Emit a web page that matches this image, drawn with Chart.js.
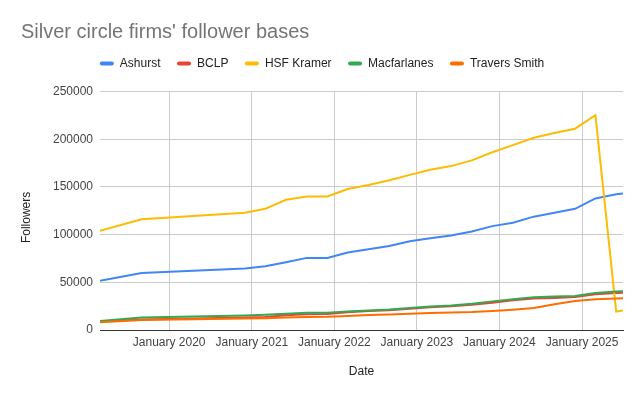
<!DOCTYPE html>
<html>
<head>
<meta charset="utf-8">
<script src="https://cdn.jsdelivr.net/npm/chart.js@4/dist/chart.umd.min.js"></script>
<style>
  html, body { margin: 0; padding: 0; background: #fff; }
  #wrap { width: 643px; height: 399px; position: relative; }
</style>
</head>
<body>
<div id="wrap"><canvas id="c"></canvas></div>
<script>
// ---- Data ----
const dates = ['2019-03','2019-09','2020-12','2021-03','2021-06','2021-09','2021-12',
               '2022-03','2022-06','2022-09','2022-12','2023-03','2023-06','2023-09',
               '2023-12','2024-03','2024-06','2024-09','2024-12','2025-03','2025-06','2025-07'];
const ashurst      = [51600, 59700, 64400, 66800, 71000, 75600, 75600, 81300, 84600, 88000, 93000,
                      96200, 99000, 103200, 108900, 112400, 118800, 123000, 127000, 137900, 142300, 143200];
const bclp         = [8800, 11000, 13000, 13600, 15500, 16500, 16800, 18500, 19800, 20800, 22300,
                      23800, 24800, 26500, 28600, 31100, 32900, 33600, 34600, 37500, 38700, 39000];
const hsfKramer    = [104000, 116000, 123000, 127000, 136500, 140000, 140000, 147800, 152000, 157000, 162600,
                      167900, 171800, 177800, 186300, 193800, 201500, 206500, 211000, 225200, 19400, 20500];
const macfarlanes  = [9500, 13000, 15200, 16000, 17000, 18000, 18000, 19400, 20500, 21500, 23000,
                      24700, 25800, 27600, 30000, 32200, 34300, 35000, 35700, 38900, 40300, 40600];
const traversSmith = [8100, 10600, 12000, 12400, 13000, 13500, 13800, 14800, 15600, 16300, 17000,
                      17700, 18400, 18800, 19800, 21200, 23000, 26900, 30400, 32200, 33000, 33200];
const seriesNames  = ['Ashurst', 'BCLP', 'HSF Kramer', 'Macfarlanes', 'Travers Smith'];
const seriesValues = [ashurst, bclp, hsfKramer, macfarlanes, traversSmith];
const tickYears    = [2020, 2021, 2022, 2023, 2024, 2025];
const yTickValues  = [0, 50000, 100000, 150000, 200000, 250000];
const xRange       = ['2019-03', '2025-07'];

// ---- Styling ----
const colors = ['#4285F4', '#EA4335', '#FBBC04', '#34A853', '#FF6D01'];
const FONT = "'Liberation Sans', Arial, sans-serif";

function toTime(s) {
  const [y, m] = s.split('-').map(Number);
  return Date.UTC(y, m - 1, 1);
}

const datasets = seriesNames.map((name, k) => ({
  label: name,
  data: dates.map((d, i) => ({ x: toTime(d), y: seriesValues[k][i] })),
  borderColor: colors[k],
  backgroundColor: colors[k],
  borderWidth: 2,
  pointRadius: 0,
  pointHoverRadius: 0,
  tension: 0,
  fill: false,
  order: seriesNames.length - k
}));

const legendGap = {
  id: 'legendGap',
  beforeLayout(chart) {
    const lg = chart.legend;
    if (lg && !lg._gapPatched) {
      const fit = lg.fit;
      lg.fit = function () { fit.call(this); this.height += 12; };
      lg._gapPatched = true;
    }
  }
};

new Chart(document.getElementById('c'), {
  type: 'line',
  data: { datasets },
  plugins: [legendGap],
  options: {
    responsive: true,
    maintainAspectRatio: false,
    animation: false,
    devicePixelRatio: 1,
    layout: { padding: { left: 21, right: 20, top: 0, bottom: 20 } },
    plugins: {
      title: {
        display: true,
        text: "Silver circle firms' follower bases",
        align: 'start',
        color: '#757575',
        font: { family: FONT, size: 20, weight: 'normal', lineHeight: 1.0 },
        padding: { top: 22, bottom: -1 }
      },
      legend: {
        display: true,
        position: 'top',
        align: 'center',
        labels: {
          color: '#222222',
          font: { family: FONT, size: 12 },
          boxWidth: 14,
          boxHeight: 4,
          padding: 16.5,
          useBorderRadius: true,
          borderRadius: 2,
          sort: (a, b) => a.datasetIndex - b.datasetIndex,
          generateLabels(chart) {
            const items = Chart.defaults.plugins.legend.labels.generateLabels(chart);
            items.forEach(it => { it.lineWidth = 0; it.fillStyle = colors[it.datasetIndex]; it.strokeStyle = colors[it.datasetIndex]; });
            return items;
          }
        }
      },
      tooltip: { enabled: false }
    },
    scales: {
      x: {
        type: 'linear',
        min: toTime(xRange[0]),
        max: toTime(xRange[1]),
        afterBuildTicks(scale) {
          scale.ticks = tickYears.map(y => ({ value: Date.UTC(y, 0, 1) }));
        },
        ticks: {
          autoSkip: false,
          maxRotation: 0,
          minRotation: 0,
          padding: 5,
          color: '#444444',
          font: { family: FONT, size: 12 },
          callback(v) { return 'January ' + new Date(v).getUTCFullYear(); }
        },
        grid: { color: '#cccccc', drawTicks: false, lineWidth: 1 },
        border: { display: true, color: '#333333', width: 1 },
        title: {
          display: true,
          text: 'Date',
          color: '#222222',
          font: { family: FONT, size: 12 },
          padding: { top: 10.2, bottom: 0 }
        }
      },
      y: {
        min: 0,
        max: 250000,
        afterBuildTicks(scale) {
          scale.ticks = yTickValues.map(v => ({ value: v }));
        },
        afterFit(scale) { scale.width = 79; },
        ticks: {
          padding: 7,
          color: '#444444',
          font: { family: FONT, size: 12 },
          callback(v) { return String(v); }
        },
        grid: {
          drawTicks: false,
          lineWidth: 1,
          color(ctx) { return ctx.tick && ctx.tick.value === 0 ? '#333333' : '#cccccc'; }
        },
        border: { display: false },
        title: {
          display: true,
          text: 'Followers    ',
          color: '#222222',
          font: { family: FONT, size: 12 },
          padding: { top: -1.5, bottom: 0 }
        }
      }
    }
  }
});
</script>
</body>
</html>
